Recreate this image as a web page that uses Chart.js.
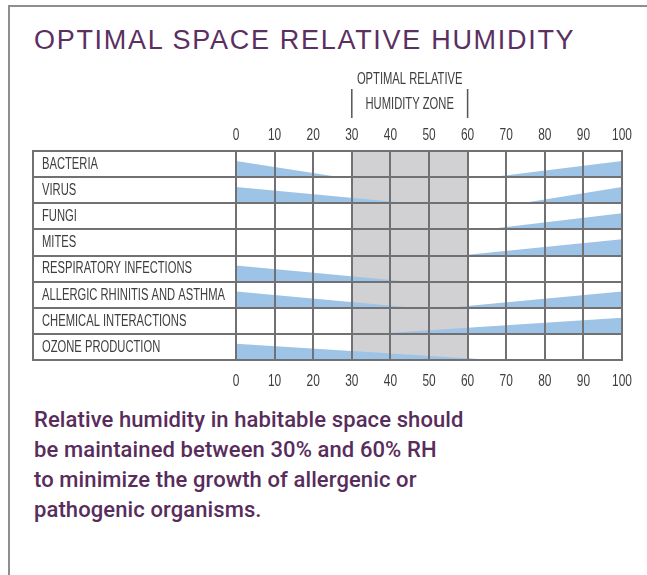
<!DOCTYPE html>
<html>
<head>
<meta charset="utf-8">
<title>Optimal space relative humidity</title>
<script src="https://cdn.jsdelivr.net/npm/chart.js@4.4.1/dist/chart.umd.min.js"></script>
<style>
  html, body { margin: 0; padding: 0; background: #fff; }
  body { width: 647px; height: 575px; position: relative; overflow: hidden; }
  .frame { position: absolute; left: 8px; top: 5px; width: 700px; height: 620px; border: 2px solid #8e8e8e; }
  h1 {
    position: absolute; left: 34px; top: 27px; margin: 0;
    font: 400 27px/27px 'Liberation Sans', Arial, sans-serif;
    letter-spacing: 1.7px; color: #5b2f5f; white-space: nowrap;
  }
  #chart { position: absolute; left: 0; top: 0; }
  p.note {
    position: absolute; left: 34px; top: 405px; margin: 0;
    font: 500 22px/30px Roboto, sans-serif; letter-spacing: 0.1px;
    color: #582c5b; white-space: nowrap;
  }
</style>
</head>
<body>
<div class="frame"></div>
<h1>OPTIMAL SPACE RELATIVE HUMIDITY</h1>
<canvas id="chart" width="647" height="400"></canvas>
<p class="note">Relative humidity in habitable space should<br>be maintained between 30% and 60% RH<br>to minimize the growth of allergenic or<br>pathogenic organisms.</p>

<script>
// rows of the table, top to bottom
const categories = [
  'BACTERIA',
  'VIRUS',
  'FUNGI',
  'MITES',
  'RESPIRATORY INFECTIONS',
  'ALLERGIC RHINITIS AND ASTHMA',
  'CHEMICAL INTERACTIONS',
  'OZONE PRODUCTION'
]
// % RH where the risk from dry air fades out (wedge starts at 0)
const lowHumidityEnd = [27, 45, null, null, 45, 46, null, 67]
// % RH where the risk from damp air begins (wedge grows to 100)
const highHumidityStart = [66, 74, 65, 58, null, 55, 36, null]
// optimal zone, % RH
const optimalZone = [30, 60]
const humidityRange = [0, 100]
const humidityStep = 10

const LABEL_FONT = "'Liberation Sans', Arial, sans-serif"
const SQUEEZE = 0.7     // fake a condensed face
const GRID = '#717173'
const BLUE = '#9dc3e7'
const ZONE = '#d1d1d3'
const TEXT = '#3e3e3e'
const LABEL_COL = 203   // width of the label column
const WEDGE = 0.62      // wedge height, as a share of a row

// Each wedge is a two point line filled down to its row's bottom
const datasets = [{
  label: 'Optimal zone',
  data: [{ x: optimalZone[0], y: 0 }, { x: optimalZone[1], y: 0 }],
  fill: { value: categories.length },
  backgroundColor: ZONE,
  order: 2
}]

categories.forEach((name, i) => {
  const base = i + 1
  const top = base - WEDGE
  if (lowHumidityEnd[i] !== null) {
    datasets.push({
      label: name + ' (dry)',
      data: [{ x: humidityRange[0], y: top }, { x: lowHumidityEnd[i], y: base }],
      fill: { value: base },
      backgroundColor: BLUE
    })
  }
  if (highHumidityStart[i] !== null) {
    datasets.push({
      label: name + ' (damp)',
      data: [{ x: highHumidityStart[i], y: base }, { x: humidityRange[1], y: top }],
      fill: { value: base },
      backgroundColor: BLUE
    })
  }
})

datasets.forEach(ds => {
  ds.borderWidth = 0
  ds.borderColor = 'transparent'
  ds.pointRadius = 0
  ds.tension = 0
})

function narrowText(ctx, text, x, y, size, align) {
  ctx.save()
  ctx.translate(x, y)
  ctx.scale(SQUEEZE, 1)
  ctx.font = size + 'px ' + LABEL_FONT
  ctx.fillStyle = TEXT
  ctx.textAlign = align
  ctx.textBaseline = 'middle'
  ctx.fillText(text, 0, 0)
  ctx.restore()
}

// Label column edge, condensed labels and the "optimal zone" header
const tableExtras = {
  id: 'tableExtras',
  afterDraw(chart) {
    const { ctx, chartArea, scales } = chart
    const left = chartArea.left - LABEL_COL
    ctx.save()
    ctx.strokeStyle = GRID
    ctx.lineWidth = 2
    ctx.beginPath()
    ctx.moveTo(left, chartArea.top - 1)
    ctx.lineTo(left, chartArea.bottom + 1)
    ctx.stroke()

    // row names
    scales.rows.ticks.forEach((t, i) => {
      narrowText(ctx, categories[i], left + 9, scales.rows.getPixelForTick(i) + 0.5, 16, 'left')
    })
    // % RH ticks, above and below the table
    scales.x.ticks.forEach(t => {
      const x = scales.x.getPixelForValue(t.value)
      narrowText(ctx, String(t.value), x, chartArea.top - 16, 17, 'center')
      narrowText(ctx, String(t.value), x, chartArea.bottom + 21, 17, 'center')
    })

    const x0 = scales.x.getPixelForValue(optimalZone[0])
    const x1 = scales.x.getPixelForValue(optimalZone[1])
    ctx.strokeStyle = '#555'
    ctx.lineWidth = 1.5
    ctx.beginPath()
    ctx.moveTo(x0, chartArea.top - 62)
    ctx.lineTo(x0, chartArea.top - 33)
    ctx.moveTo(x1, chartArea.top - 62)
    ctx.lineTo(x1, chartArea.top - 33)
    ctx.stroke()
    narrowText(ctx, 'OPTIMAL RELATIVE', (x0 + x1) / 2, chartArea.top - 71, 16, 'center')
    narrowText(ctx, 'HUMIDITY ZONE', (x0 + x1) / 2, chartArea.top - 46, 16, 'center')
    ctx.restore()
  }
}

new Chart(document.getElementById('chart'), {
  type: 'line',
  data: { labels: categories, datasets: datasets },
  options: {
    responsive: false,
    animation: false,
    layout: { padding: { left: 33, right: 25, top: 0, bottom: 0 } },
    plugins: {
      legend: { display: false },
      tooltip: { enabled: false }
    },
    scales: {
      x: {
        type: 'linear',
        position: 'bottom',
        min: humidityRange[0],
        max: humidityRange[1],
        grid: { color: GRID, lineWidth: 2, drawTicks: false, z: 1 },
        border: { color: GRID, width: 2, z: 1 },
        ticks: { stepSize: humidityStep, display: false },
        afterFit(scale) { scale.height = 40 }
      },
      xTop: {
        type: 'linear',
        position: 'top',
        min: humidityRange[0],
        max: humidityRange[1],
        grid: { display: false, drawTicks: false },
        border: { color: GRID, width: 2, z: 1 },
        ticks: { stepSize: humidityStep, display: false },
        afterFit(scale) { scale.height = 151 }
      },
      y: {
        type: 'linear',
        min: 0,
        max: categories.length,
        reverse: true,
        display: false
      },
      rows: {
        type: 'category',
        labels: categories,
        position: 'left',
        offset: true,
        grid: { offset: true, color: GRID, lineWidth: 2, tickLength: LABEL_COL, z: 1 },
        border: { color: GRID, width: 2, z: 1 },
        ticks: { display: false },
        afterFit(scale) { scale.width = LABEL_COL }
      }
    }
  },
  plugins: [tableExtras]
})
</script>
</body>
</html>
